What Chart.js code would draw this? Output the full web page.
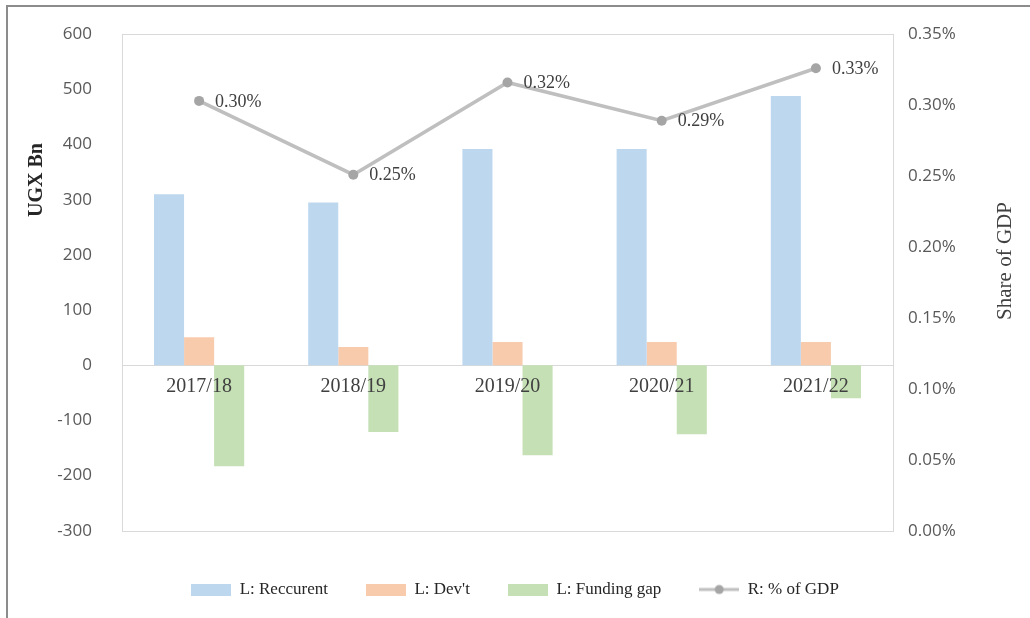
<!DOCTYPE html>
<html>
<head>
<meta charset="utf-8">
<script src="https://cdn.jsdelivr.net/npm/chart.js@4.4.1/dist/chart.umd.min.js"></script>
<style>
  html, body { margin: 0; padding: 0; background: #fff; overflow: hidden; }
  #wrap { width: 1030px; height: 618px; overflow: hidden; }
  #chart { display: block; margin-top: -6px; }
</style>
</head>
<body>
<div id="wrap"><canvas id="chart" width="1030" height="624"></canvas></div>
<script>
const years = ['2017/18', '2018/19', '2019/20', '2020/21', '2021/22'];
const recurrent = [310, 295, 392, 392, 488];
const devt = [51, 33, 42, 42, 42];
const fundingGap = [-183, -121, -163, -125, -60];
const gdpShare = [0.303, 0.251, 0.316, 0.289, 0.326]; // in percent

const seriesNames = ['L: Reccurent', "L: Dev't", 'L: Funding gap', 'R: % of GDP'];
const colors = ['#BDD7EE', '#F8CBAD', '#C5E0B4', '#BFBFBF'];
const markerColor = '#A5A5A5';

const serif = '"Liberation Serif", "DejaVu Serif", serif';
const sans = '"Open Sans", "DejaVu Sans", sans-serif';

// canvas is shifted up 6px in the page (chart.js keeps the plot top at 40 here)
const shift = 6;

// legend icons: little canvases so the line entry can show line + dot
function boxIcon(color) {
  const c = document.createElement('canvas');
  c.width = 40; c.height = 12;
  const g = c.getContext('2d');
  g.fillStyle = color;
  g.fillRect(0, 0, 40, 12);
  return c;
}
function lineIcon(color, dot) {
  const c = document.createElement('canvas');
  c.width = 40; c.height = 12;
  const g = c.getContext('2d');
  g.strokeStyle = color;
  g.lineWidth = 3;
  g.beginPath(); g.moveTo(0, 6); g.lineTo(40, 6); g.stroke();
  g.fillStyle = dot;
  g.beginPath(); g.arc(20, 6, 4.5, 0, Math.PI * 2); g.fill();
  return c;
}
const icons = [boxIcon(colors[0]), boxIcon(colors[1]), boxIcon(colors[2]), lineIcon(colors[3], markerColor)];

const decorations = {
  id: 'decorations',
  beforeDraw(chart) {
    const { ctx, chartArea: a } = chart;
    ctx.save();
    ctx.fillStyle = '#fff';
    ctx.fillRect(0, 0, chart.width, chart.height);
    // outer frame (top and left only)
    ctx.fillStyle = '#8c8c8c';
    ctx.fillRect(6, 5 + shift, chart.width - 6, 2);
    ctx.fillRect(6, 5 + shift, 2, chart.height - 5 - shift);
    // plot box
    ctx.strokeStyle = '#d9d9d9';
    ctx.lineWidth = 1;
    ctx.strokeRect(Math.round(a.left) + 0.5, Math.round(a.top) + 0.5, Math.round(a.width), Math.round(a.height));
    ctx.restore();
  },
  afterDatasetsDraw(chart) {
    const { ctx } = chart;
    const meta = chart.getDatasetMeta(3);
    ctx.save();
    ctx.font = '18px ' + serif;
    ctx.fillStyle = '#404040';
    ctx.textAlign = 'left';
    ctx.textBaseline = 'middle';
    meta.data.forEach((pt, i) => {
      ctx.fillText(gdpShare[i].toFixed(2) + '%', pt.x + 16, pt.y + 1);
    });
    ctx.restore();
  },
  afterDraw(chart) {
    const { ctx } = chart;
    ctx.save();
    ctx.fillStyle = '#262626';
    ctx.textAlign = 'center';
    ctx.textBaseline = 'middle';
    ctx.translate(37, 180 + shift);
    ctx.rotate(-Math.PI / 2);
    ctx.font = 'bold 20px ' + serif;
    ctx.fillText('UGX Bn', 0, 0);
    ctx.restore();

    ctx.save();
    ctx.fillStyle = '#404040';
    ctx.textAlign = 'center';
    ctx.textBaseline = 'middle';
    ctx.translate(1005, 261 + shift);
    ctx.rotate(-Math.PI / 2);
    ctx.font = '21px ' + serif;
    ctx.fillText('Share of GDP', 0, 0);
    ctx.restore();
  }
};

new Chart(document.getElementById('chart'), {
  type: 'bar',
  data: {
    labels: years,
    datasets: [
      { label: seriesNames[0], data: recurrent, backgroundColor: colors[0], yAxisID: 'y', order: 1 },
      { label: seriesNames[1], data: devt, backgroundColor: colors[1], yAxisID: 'y', order: 1 },
      { label: seriesNames[2], data: fundingGap, backgroundColor: colors[2], yAxisID: 'y', order: 1 },
      {
        type: 'line', label: seriesNames[3], data: gdpShare, yAxisID: 'y1', order: 0,
        borderColor: colors[3], borderWidth: 3.5, tension: 0,
        pointRadius: 5, pointBackgroundColor: markerColor, pointBorderColor: markerColor, pointBorderWidth: 0
      }
    ]
  },
  options: {
    responsive: false,
    animation: false,
    datasets: {
      bar: { categoryPercentage: 0.585, barPercentage: 1 }
    },
    layout: { padding: { top: 0, left: 0, right: 0, bottom: 10 } },
    scales: {
      x: {
        type: 'category',
        position: { y: 0 },
        grid: { display: false },
        border: { display: true, color: '#d9d9d9' },
        ticks: { z: 1, font: { family: serif, size: 20 }, color: '#404040', padding: 1, maxRotation: 0 },
        afterFit(scale) { scale.height = 0; }
      },
      y: {
        position: 'left',
        min: -300, max: 600,
        grid: { display: false, drawTicks: false },
        border: { display: true, color: '#d9d9d9' },
        ticks: { stepSize: 100, font: { family: sans, size: 17 }, color: '#595959', padding: 30 },
        afterFit(scale) { scale.width = 122; }
      },
      y1: {
        position: 'right',
        min: 0, max: 0.35,
        grid: { display: false, drawTicks: false },
        border: { display: true, color: '#d9d9d9' },
        ticks: {
          stepSize: 0.05, font: { family: sans, size: 17 }, color: '#595959', padding: 15,
          callback: v => v.toFixed(2) + '%'
        },
        afterFit(scale) { scale.width = 137; }
      }
    },
    plugins: {
      tooltip: { enabled: false },
      legend: {
        position: 'bottom',
        title: { display: true, text: ' ', font: { size: 1 }, padding: { top: 11, bottom: 0 } },
        labels: {
          usePointStyle: true,
          pointStyleWidth: 40,
          boxHeight: 12,
          padding: 38,
          color: '#262626',
          font: { family: serif, size: 17 },
          generateLabels(chart) {
            return chart.data.datasets.map((ds, i) => ({
              text: ds.label,
              pointStyle: icons[i],
              fillStyle: colors[i],
              strokeStyle: 'rgba(0,0,0,0)',
              lineWidth: 0,
              hidden: false,
              datasetIndex: i,
              fontColor: '#262626'
            }));
          }
        }
      }
    }
  },
  plugins: [decorations]
});
</script>
</body>
</html>
